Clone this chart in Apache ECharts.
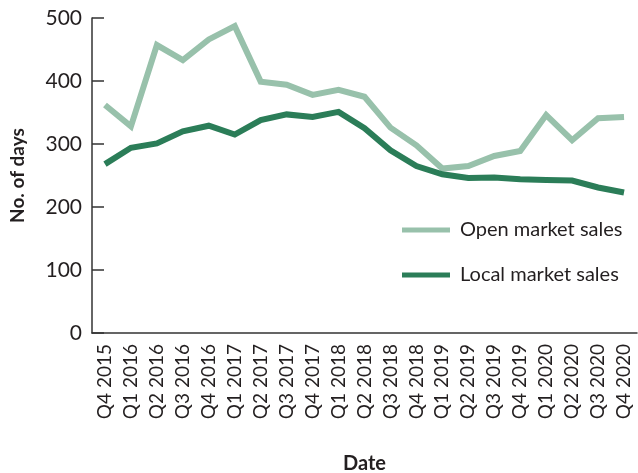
<!DOCTYPE html>
<html>
<head>
<meta charset="utf-8">
<script src="https://cdn.jsdelivr.net/npm/echarts@6/dist/echarts.min.js"></script>
<style>
  html, body { margin: 0; padding: 0; background: #fff; }
  #chart { width: 638px; height: 473px; }
</style>
</head>
<body>
<div id="chart"></div>
<script>
// quarters on the x axis
const quarters = [
  'Q4 2015', 'Q1 2016', 'Q2 2016', 'Q3 2016', 'Q4 2016',
  'Q1 2017', 'Q2 2017', 'Q3 2017', 'Q4 2017',
  'Q1 2018', 'Q2 2018', 'Q3 2018', 'Q4 2018',
  'Q1 2019', 'Q2 2019', 'Q3 2019', 'Q4 2019',
  'Q1 2020', 'Q2 2020', 'Q3 2020', 'Q4 2020'
]
const openMarket = [362, 328, 457, 433, 466, 487, 399, 394, 378, 386, 375, 326, 298, 261, 265, 281, 289, 346, 306, 341, 343]
const localMarket = [268, 294, 301, 320, 329, 315, 338, 347, 343, 351, 325, 290, 265, 252, 246, 247, 244, 243, 242, 231, 223]

const OPEN_COLOR = '#98c1ab'
const LOCAL_COLOR = '#2b7d58'
const TEXT = '#231f20'
const FONT = 'Lato'

const myChart = echarts.init(document.getElementById('chart'))

const option = {
  animation: false,
  grid: { left: 92, right: 1, top: 18, bottom: 140, outerBoundsMode: 'none', containLabel: false },
  legend: {
    orient: 'vertical',
    left: 402,
    top: 220,
    padding: 0,
    itemWidth: 48,
    itemHeight: 5,
    itemGap: 25,
    icon: 'rect',
    textStyle: {
      fontFamily: FONT,
      fontSize: 20,
      lineHeight: 20,
      color: TEXT,
      padding: [0, 0, 0, 5],
    },
    data: ['Open market sales', 'Local market sales'],
  },
  xAxis: {
    type: 'category',
    data: quarters,
    boundaryGap: true,
    name: 'Date',
    nameLocation: 'middle',
    nameGap: 121,
    nameTextStyle: { fontFamily: FONT, fontSize: 20, fontWeight: 'bold', color: TEXT },
    axisLine: { lineStyle: { color: '#333', width: 1.5 } },
    axisTick: { inside: true, length: 7, interval: 0, lineStyle: { color: '#333', width: 1.5 } },
    axisLabel: { rotate: 90, interval: 0, margin: 11, fontFamily: FONT, fontSize: 19, color: TEXT },
  },
  yAxis: {
    type: 'value',
    min: 0,
    max: 500,
    interval: 100,
    name: 'No. of days',
    nameLocation: 'middle',
    nameGap: 65,
    nameTextStyle: { fontFamily: FONT, fontSize: 19, fontWeight: 'bold', color: TEXT },
    axisLine: { show: true, lineStyle: { color: '#333', width: 1.5 } },
    axisTick: { show: true, inside: true, length: 12, lineStyle: { color: '#333', width: 1.5 } },
    axisLabel: { margin: 10, fontFamily: FONT, fontSize: 21, color: TEXT },
    splitLine: { show: false },
  },
  series: [
    {
      name: 'Open market sales',
      type: 'line',
      data: openMarket,
      showSymbol: false,
      symbol: 'none',
      color: OPEN_COLOR,
      lineStyle: { width: 6, color: OPEN_COLOR, join: 'miter' },
      itemStyle: { color: OPEN_COLOR },
    },
    {
      name: 'Local market sales',
      type: 'line',
      data: localMarket,
      showSymbol: false,
      symbol: 'none',
      color: LOCAL_COLOR,
      lineStyle: { width: 6, color: LOCAL_COLOR, join: 'miter' },
      itemStyle: { color: LOCAL_COLOR },
    },
  ],
}

myChart.setOption(option)
</script>
</body>
</html>
